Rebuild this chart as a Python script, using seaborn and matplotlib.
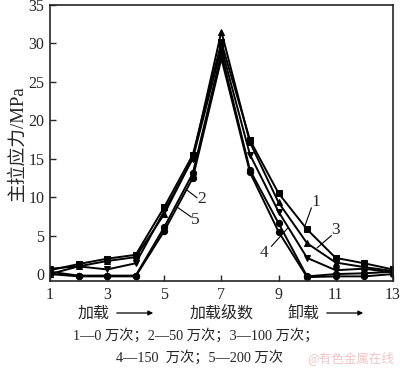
import numpy as np
import pandas as pd
import matplotlib
matplotlib.use("Agg")
import matplotlib.pyplot as plt
import seaborn as sns

# loading steps
steps = list(range(1, 14))

# main tensile stress (MPa) for each cycle count
s1 = [0.5, 1.3, 2.0, 2.5, 8.7, 15.5, 30.1, 17.4, 10.5, 5.8, 2.1, 1.4, 0.6]
s2 = [0.3, -0.2, -0.2, -0.2, 6.1, 13.1, 28.7, 13.5, 6.6, -0.3, 0.0, 0.1, 0.3]
s3 = [0.0, 1.0, 1.7, 2.2, 7.8, 15.1, 31.5, 17.1, 9.3, 4.0, 1.5, 0.9, 0.4]
s4 = [0.7, 1.0, 0.6, 1.4, 8.2, 15.0, 29.4, 15.5, 8.1, 2.1, 0.5, 0.7, 0.2]
s5 = [0.0, -0.3, -0.3, -0.3, 5.6, 12.5, 28.0, 13.2, 5.5, -0.4, -0.3, -0.3, 0.0]

series = {"1": s1, "2": s2, "3": s3, "4": s4, "5": s5}
markers = {"1": "s", "2": "o", "3": "^", "4": "v", "5": "o"}

rows = []
for name, vals in series.items():
    for x, v in zip(steps, vals):
        rows.append({"step": x, "stress": v, "curve": name})
df = pd.DataFrame(rows)

sns.set_style("ticks")
plt.rcParams['font.family'] = ['Liberation Serif', 'Noto Sans CJK SC']
plt.rcParams['axes.unicode_minus'] = False

fig = plt.figure(figsize=(4.0, 3.71), dpi=100)
ax = fig.add_axes([0.125, 0.2426, 0.857, 0.745])

sns.lineplot(data=df, x="step", y="stress", hue="curve", style="curve",
             markers=markers, dashes=False, palette=["black"] * 5,
             markersize=4.5, markeredgecolor="black", linewidth=1.4,
             legend=False, ax=ax)

ax.set_xlim(1, 13)
ax.set_ylim(-0.9, 35)
ax.set_xticks([1, 3, 5, 7, 9, 11, 13])
ax.set_yticks([0, 5, 10, 15, 20, 25, 30, 35])
ax.tick_params(direction="in", length=4, width=1, labelsize=11.5, pad=4)
for sp in ax.spines.values():
    sp.set_linewidth(1.2)
    sp.set_visible(True)
ax.set_xlabel("")
ax.set_ylabel("主拉应力/MPa", fontsize=13.5, labelpad=1)

# curve labels with leader lines
lab_kw = dict(fontsize=12.5, ha="center", va="center")
ax.text(10.3, 9.4, "1", **lab_kw)
ax.plot([10.15, 9.9], [8.6, 6.0], color="black", lw=0.8)
ax.text(11.0, 5.7, "3", **lab_kw)
ax.plot([10.85, 10.35], [5.0, 3.4], color="black", lw=0.8)
ax.text(8.5, 2.7, "4", **lab_kw)
ax.plot([8.75, 9.33], [3.6, 6.0], color="black", lw=0.8)
ax.text(6.3, 9.7, "2", **lab_kw)
ax.plot([6.15, 5.8], [9.9, 10.9], color="black", lw=0.8)
ax.text(6.1, 7.0, "5", **lab_kw)
ax.plot([5.95, 5.45], [7.4, 8.7], color="black", lw=0.8)

# bottom captions
cjk = ['Noto Sans CJK SC', 'Liberation Serif']
fig.text(78 / 400, 1 - 313 / 371, "加载", fontsize=11.5, family=cjk, va="center")
fig.text(222 / 400, 1 - 313 / 371, "加载级数", fontsize=11.5, family=cjk,
         va="center", ha="center")
fig.text(287 / 400, 1 - 313 / 371, "卸载", fontsize=11.5, family=cjk, va="center")
for x0, x1 in [(114, 156), (324, 366)]:
    fig.add_artist(matplotlib.patches.FancyArrowPatch(
        (x0 / 400, 1 - 313 / 371), (x1 / 400, 1 - 313 / 371),
        transform=fig.transFigure, arrowstyle="-|>", mutation_scale=7,
        color="black", lw=0.9))
fig.text(196 / 400, 1 - 336 / 371, "1—0 万次；2—50 万次；3—100 万次；",
         fontsize=10.3, family=['Liberation Serif', 'Noto Sans CJK SC'],
         ha="center", va="center")
fig.text(200 / 400, 1 - 358 / 371, "4—150  万次；5—200 万次",
         fontsize=10.3, family=['Liberation Serif', 'Noto Sans CJK SC'],
         ha="center", va="center")
fig.text(351 / 400, 1 - 358 / 371, "@有色金属在线", fontsize=9,
         family=cjk, color="#f3c4c4", ha="center", va="center")

fig.savefig("out.png", dpi=100)
